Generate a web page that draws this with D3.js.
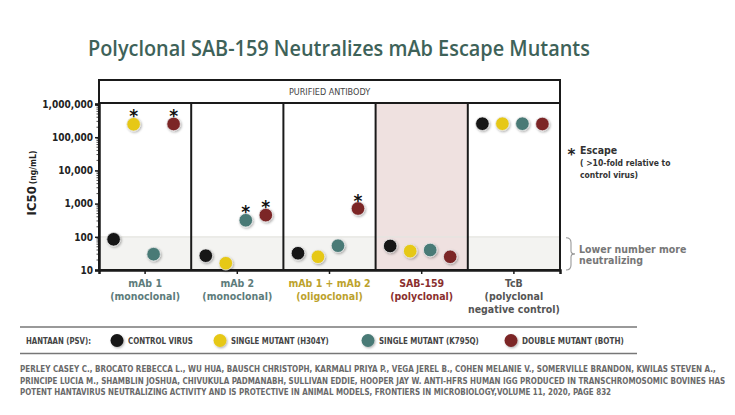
<!DOCTYPE html>
<html><head><meta charset="utf-8">
<script src="https://cdn.jsdelivr.net/npm/d3@7"></script>
<style>
html,body{margin:0;padding:0;background:#fff;}
svg{display:block;}
.cond{font-family:"DejaVu Sans Condensed","DejaVu Sans",sans-serif;font-stretch:condensed;font-weight:bold;}
</style></head>
<body>
<svg id="chart" width="735" height="415"></svg>
<script>
// ---- data ----
const categories = ["mAb 1", "mAb 2", "mAb 1 + mAb 2", "SAB-159", "TcB"];
const categorySub = [["(monoclonal)"], ["(monoclonal)"], ["(oligoclonal)"], ["(polyclonal)"], ["(polyclonal", "negative control)"]];
const seriesNames = ["CONTROL VIRUS", "SINGLE MUTANT (H304Y)", "SINGLE MUTANT (K795Q)", "DOUBLE MUTANT (BOTH)"];
const controlVirus = [84, 27, 32, 53, 255000];
const singleH304Y = [245000, 16, 25, 37, 255000];
const singleK795Q = [30, 315, 54, 40, 255000];
const doubleMutant = [250000, 450, 710, 25, 250000];
const escapeH304Y = [true, false, false, false, false];
const escapeK795Q = [false, true, false, false, false];
const escapeDouble = [true, true, true, false, false];
const yTicks = [10, 100, 1000, 10000, 100000, 1000000];
const yTickLabels = ["10", "100", "1,000", "10,000", "100,000", "1,000,000"];
const citation = [
  "PERLEY CASEY C., BROCATO REBECCA L., WU HUA, BAUSCH CHRISTOPH, KARMALI PRIYA P., VEGA JEREL B., COHEN MELANIE V., SOMERVILLE BRANDON, KWILAS STEVEN A.,",
  "PRINCIPE LUCIA M., SHAMBLIN JOSHUA, CHIVUKULA PADMANABH, SULLIVAN EDDIE, HOOPER JAY W. ANTI-HFRS HUMAN IGG PRODUCED IN TRANSCHROMOSOMIC BOVINES HAS",
  "POTENT HANTAVIRUS NEUTRALIZING ACTIVITY AND IS PROTECTIVE IN ANIMAL MODELS, FRONTIERS IN MICROBIOLOGY,VOLUME 11, 2020, PAGE 832"
];

const seriesValues = [controlVirus, singleH304Y, singleK795Q, doubleMutant];
const seriesEscape = [null, escapeH304Y, escapeK795Q, escapeDouble];
const seriesColors = ["#141414", "#e6c817", "#487a76", "#7c2528"];
const catColors = ["#5d7c7b", "#5d7c7b", "#bca22c", "#8a2f2e", "#555555"];

const svg = d3.select("#chart");
const defs = svg.append("defs");
const f = defs.append("filter").attr("id", "sh").attr("x", "-50%").attr("y", "-50%").attr("width", "200%").attr("height", "200%");
f.append("feDropShadow").attr("dx", 1).attr("dy", 1.2).attr("stdDeviation", 0.9).attr("flood-color", "#000").attr("flood-opacity", 0.3);

// place a text at (x,y) and squeeze it horizontally so it spans width w
function placeFit(sel, px, py, w) {
  sel.each(function () {
    const len = this.getComputedTextLength();
    const s = len > 0 ? w / len : 1;
    d3.select(this).attr("x", 0).attr("y", 0).attr("transform", `translate(${px},${py}) scale(${s.toFixed(4)},1)`);
  });
}

// ---- title ----
svg.append("text")
  .attr("font-family", "'Open Sans',sans-serif").attr("font-weight", 600).attr("font-size", 22).attr("fill", "#3e6259")
  .text("Polyclonal SAB-159 Neutralizes mAb Escape Mutants").call(placeFit, 88, 56, 502);

// ---- scales ----
const pLeft = 99, pRight = 560, pTop = 103, pBottom = 270;
const x = d3.scaleBand().domain(categories).range([pLeft, pRight]).padding(0);
const y = d3.scaleLog().domain([10, 1000000]).range([pBottom, 104]);
const sub = d3.scalePoint().domain(seriesNames).range([-30, 30]);

// ---- backgrounds ----
categories.forEach((c, i) => {
  if (c === "SAB-159") {
    svg.append("rect").attr("x", x(c)).attr("y", pTop).attr("width", x.bandwidth()).attr("height", pBottom - pTop).attr("fill", "#efe1e0");
  } else {
    svg.append("rect").attr("x", x(c)).attr("y", y(100)).attr("width", x.bandwidth()).attr("height", pBottom - y(100)).attr("fill", "#f3f3f1");
  }
});
svg.append("line").attr("x1", pLeft).attr("x2", pRight).attr("y1", y(100)).attr("y2", y(100)).attr("stroke", "#e4e4e0").attr("stroke-width", 1.2);

// header box
svg.append("rect").attr("x", pLeft).attr("y", 80).attr("width", pRight - pLeft).attr("height", pTop - 80).attr("fill", "#fff").attr("stroke", "#1a1a1a").attr("stroke-width", 2);
svg.append("text").attr("x", (pLeft + pRight) / 2).attr("y", 95).attr("text-anchor", "middle")
  .attr("font-family", "'DejaVu Sans Condensed','DejaVu Sans',sans-serif").attr("font-size", 9).attr("fill", "#444").text("PURIFIED ANTIBODY");

// panel frame and dividers
svg.append("rect").attr("x", pLeft).attr("y", pTop).attr("width", pRight - pLeft).attr("height", pBottom - pTop).attr("fill", "none").attr("stroke", "#1a1a1a").attr("stroke-width", 2);
categories.slice(1).forEach(c => {
  svg.append("line").attr("x1", x(c)).attr("x2", x(c)).attr("y1", pTop).attr("y2", pBottom).attr("stroke", "#1a1a1a").attr("stroke-width", 2);
});

// ---- y axis ----
const yAxis = d3.axisLeft(y).tickValues(yTicks).tickFormat((d, i) => yTickLabels[i]).tickSize(4).tickPadding(2);
const gy = svg.append("g").attr("transform", `translate(${pLeft},0)`).call(yAxis);
gy.select(".domain").attr("stroke", "#1a1a1a").attr("stroke-width", 2.5);
gy.selectAll(".tick line").attr("stroke", "#1a1a1a").attr("stroke-width", 1.5);
gy.selectAll(".tick text").attr("class", "cond").attr("font-size", 10).attr("fill", "#222");
const minor = [];
for (let e = 1; e < 6; e++) for (let k = 2; k <= 9; k++) minor.push(k * Math.pow(10, e));
gy.selectAll(".minor").data(minor).enter().append("line").attr("class", "minor")
  .attr("x1", -2.5).attr("x2", 0).attr("y1", d => y(d)).attr("y2", d => y(d)).attr("stroke", "#1a1a1a").attr("stroke-width", 0.8);

// y label
const yl = svg.append("text").attr("class", "cond").attr("transform", "translate(36,183) rotate(-90)").attr("text-anchor", "middle").attr("fill", "#222");
yl.append("tspan").attr("font-size", 13).text("IC50");
yl.append("tspan").attr("font-size", 8.5).attr("dx", 2).text("(ng/mL)");

// ---- x axis ----
const xAxis = d3.axisBottom(x).tickSize(4).tickFormat("");
const gx = svg.append("g").attr("transform", `translate(0,${pBottom})`).call(xAxis);
gx.select(".domain").attr("stroke", "#1a1a1a").attr("stroke-width", 2.5);
gx.selectAll(".tick line").attr("stroke", "#1a1a1a").attr("stroke-width", 1.5);
categories.forEach((c, i) => {
  const t = svg.append("text").attr("class", "cond").attr("text-anchor", "middle").attr("font-size", 10.5).attr("fill", catColors[i]);
  const cx = x(c) + x.bandwidth() / 2;
  t.append("tspan").attr("x", cx).attr("y", 287).text(c);
  categorySub[i].forEach((s, j) => t.append("tspan").attr("x", cx).attr("y", 300 + j * 12.5).text(s));
});

// ---- points ----
const pts = [];
seriesNames.forEach((s, si) => categories.forEach((c, ci) => pts.push({ s, si, c, v: seriesValues[si][ci], esc: seriesEscape[si] ? seriesEscape[si][ci] : false })));
const cxOf = d => x(d.c) + x.bandwidth() / 2 - 1.5 + sub(d.s);
svg.append("g").selectAll("circle").data(pts).enter().append("circle")
  .attr("cx", cxOf).attr("cy", d => y(d.v)).attr("r", 6.8)
  .attr("fill", d => seriesColors[d.si]).attr("stroke", "#e8e8e8").attr("stroke-width", 0.8).attr("filter", "url(#sh)");
svg.append("g").selectAll("text").data(pts.filter(d => d.esc)).enter().append("text")
  .attr("x", cxOf).attr("y", d => y(d.v) - 2).attr("text-anchor", "middle")
  .attr("font-family", "'DejaVu Sans',sans-serif").attr("font-weight", "bold").attr("font-size", 17).attr("fill", "#111").text("*");

// ---- right annotations ----
svg.append("text").attr("x", 571.5).attr("y", 160).attr("text-anchor", "middle").attr("font-family", "'DejaVu Sans',sans-serif").attr("font-weight", "bold").attr("font-size", 15).attr("fill", "#222").text("*");
svg.append("text").attr("class", "cond").attr("x", 580).attr("y", 154).attr("font-size", 10.5).attr("fill", "#333").text("Escape");
svg.append("text").attr("class", "cond").attr("x", 580).attr("y", 166).attr("font-size", 8.5).attr("fill", "#333").text("( >10-fold relative to");
svg.append("text").attr("class", "cond").attr("x", 580).attr("y", 178).attr("font-size", 8.5).attr("fill", "#333").text("control virus)");
const b0 = y(100) + 1, b1 = pBottom, bm = (b0 + b1) / 2;
svg.append("path").attr("d", `M566,${b0} Q571,${b0} 571,${b0 + 5} L571,${bm - 3} Q571,${bm} 575,${bm} Q571,${bm} 571,${bm + 3} L571,${b1 - 5} Q571,${b1} 566,${b1}`)
  .attr("fill", "none").attr("stroke", "#999").attr("stroke-width", 1.1);
svg.append("text").attr("class", "cond").attr("x", 579).attr("y", 252.5).attr("font-size", 10.5).attr("fill", "#777").text("Lower number more");
svg.append("text").attr("class", "cond").attr("x", 579).attr("y", 263.5).attr("font-size", 10.5).attr("fill", "#777").text("neutralizing");

// ---- legend ----
svg.append("line").attr("x1", 20).attr("x2", 637).attr("y1", 327).attr("y2", 327).attr("stroke", "#777").attr("stroke-width", 1.5);
svg.append("line").attr("x1", 20).attr("x2", 637).attr("y1", 353.5).attr("y2", 353.5).attr("stroke", "#777").attr("stroke-width", 1.5);
svg.append("text").attr("class", "cond").attr("font-size", 8.5).attr("fill", "#444").text("HANTAAN (PSV):").call(placeFit, 26, 344, 65);
const legX = [117, 220, 368, 511];
const legW = [65, 98, 100, 102];
seriesNames.forEach((s, i) => {
  svg.append("circle").attr("cx", legX[i]).attr("cy", 340.5).attr("r", 6.5).attr("fill", seriesColors[i]).attr("filter", "url(#sh)");
  svg.append("text").attr("class", "cond").attr("font-size", 8.5).attr("fill", "#444").text(s).call(placeFit, legX[i] + 11, 344, legW[i]);
});

// ---- citation ----
const citW = [697, 706, 591];
citation.forEach((line, i) => {
  svg.append("text").attr("class", "cond").attr("font-size", 8.6).attr("fill", "#6a6a6a").text(line).call(placeFit, 20, 372 + i * 11.6, citW[i]);
});
</script>
</body></html>
